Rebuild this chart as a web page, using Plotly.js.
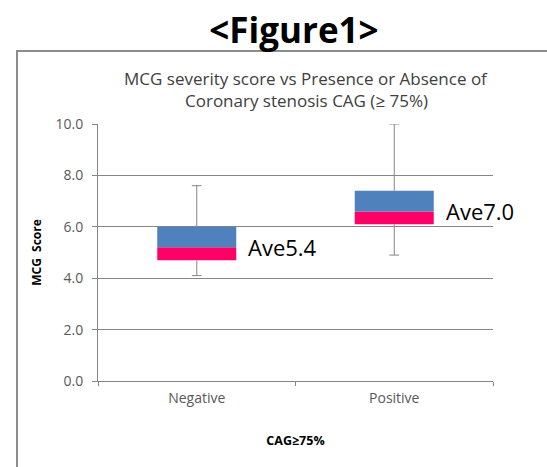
<!DOCTYPE html>
<html><head><meta charset="utf-8">
<script src="https://cdn.plot.ly/plotly-3.0.1.min.js"></script>
<style>html,body{margin:0;padding:0;background:#fff}</style>
</head><body>
<div id="chart" style="width:547px;height:467px"></div>
<script>
// ---- data ----
const categories = ['Negative', 'Positive'];
const minVals = [4.1, 4.9];
const q1Vals = [4.7, 6.1];
const medianVals = [5.2, 6.6];
const q3Vals = [6.0, 7.4];
const maxVals = [7.6, 10.0];
const avgLabels = ['Ave5.4', 'Ave7.0'];
const yTickVals = [0, 2, 4, 6, 8, 10];
const yTickText = ['0.0', '2.0', '4.0', '6.0', '8.0', '10.0'];
const chartTitleLines = ['MCG severity score vs Presence or Absence of', 'Coronary stenosis CAG (\u2265 75%)'];

// ---- layout helpers ----
const W = 547, H = 467, M = {l: 98, r: 54, t: 124, b: 86};
const pw = W - M.l - M.r, ph = H - M.t - M.b;
const px = x => (x - M.l) / pw;
const py = y => (H - M.b - y) / ph;
const FONT = 'Open Sans, Liberation Sans, sans-serif';
const GRAY = '#868686';
const BAR_W = 0.4;

const pinkTrace = {
  type: 'bar', x: categories,
  y: medianVals.map((m, i) => m - q1Vals[i]), base: q1Vals,
  width: BAR_W, marker: {color: '#FF0066', line: {width: 0}}, hoverinfo: 'skip'
};
const blueTrace = {
  type: 'bar', x: categories,
  y: q3Vals.map((q, i) => q - medianVals[i]), base: medianVals,
  width: BAR_W, marker: {color: '#4F81BD', line: {width: 0}}, hoverinfo: 'skip'
};
const whiskerTrace = {
  type: 'scatter', mode: 'lines',
  x: categories.flatMap(c => [c, c, null, c, c, null]),
  y: categories.flatMap((c, i) => [q3Vals[i], maxVals[i], null, minVals[i], q1Vals[i], null]),
  line: {color: GRAY, width: 1}, hoverinfo: 'skip'
};
const capTrace = {
  type: 'scatter', mode: 'markers',
  x: categories.concat(categories), y: maxVals.concat(minVals),
  marker: {symbol: 'line-ew', size: 7, line: {color: GRAY, width: 1}}, hoverinfo: 'skip'
};

const annotations = [
  {xref: 'paper', yref: 'paper', x: px(306), y: py(78), text: chartTitleLines[0], showarrow: false,
   xanchor: 'center', yanchor: 'middle', font: {family: FONT, size: 17, color: '#404040'}},
  {xref: 'paper', yref: 'paper', x: px(306), y: py(100), text: chartTitleLines[1], showarrow: false,
   xanchor: 'center', yanchor: 'middle', font: {family: FONT, size: 17, color: '#404040'}}
].concat(categories.map((c, i) => ({
  xref: 'x', yref: 'y', x: i + BAR_W / 2, y: medianVals[i], xshift: 10,
  text: avgLabels[i], showarrow: false, xanchor: 'left', yanchor: 'middle',
  font: {family: FONT, size: 22, color: '#000'}
})));

const layout = {
  width: W, height: H, margin: M,
  paper_bgcolor: '#fff', plot_bgcolor: '#fff',
  showlegend: false, barmode: 'overlay',
  title: {text: '&lt;Figure1&gt;', xref: 'container', yref: 'container', x: 294 / W, y: 1 - 31 / H,
          xanchor: 'center', yanchor: 'middle', font: {family: FONT, size: 35, weight: 700, color: '#000'}},
  xaxis: {
    type: 'category', range: [-0.5, 1.5], tickson: 'boundaries', ticks: 'outside', ticklen: 4,
    tickcolor: GRAY, showline: true, linecolor: GRAY, linewidth: 1, showgrid: false, zeroline: false,
    tickfont: {family: FONT, size: 14, color: '#595959'}, ticklabelstandoff: 4,
    title: {text: 'CAG\u226575%', standoff: 30, font: {family: FONT, size: 12.5, weight: 700, color: '#000'}},
    fixedrange: true
  },
  yaxis: {
    range: [0, 10], tickvals: yTickVals, ticktext: yTickText, ticks: 'outside', ticklen: 5,
    tickcolor: GRAY, showline: true, linecolor: GRAY, linewidth: 1, showgrid: true, gridcolor: GRAY,
    gridwidth: 1, zeroline: false, tickfont: {family: FONT, size: 14, color: '#595959'}, ticklabelstandoff: 6,
    title: {text: 'MCG  Score', standoff: 11, font: {family: FONT, size: 12, weight: 700, color: '#000'}},
    fixedrange: true
  },
  annotations: annotations,
  shapes: [{type: 'rect', xref: 'paper', yref: 'paper', x0: px(17), x1: px(600), y0: py(520), y1: py(51),
            line: {color: '#8c8c8c', width: 2}, fillcolor: 'rgba(0,0,0,0)', layer: 'below'}]
};

Plotly.newPlot('chart', [pinkTrace, blueTrace, whiskerTrace, capTrace], layout, {displayModeBar: false, staticPlot: true});
</script>
</body></html>
